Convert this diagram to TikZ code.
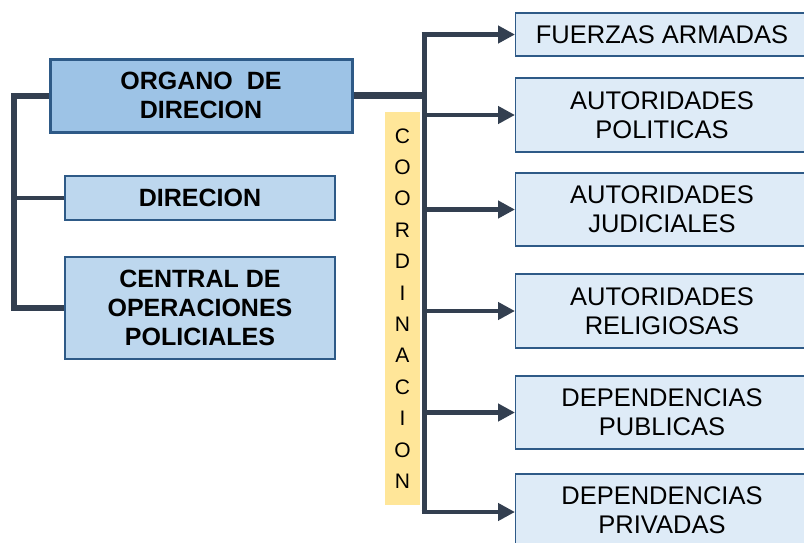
\documentclass[tikz,border=0pt]{standalone}
\usepackage{fontspec}
\setmainfont{Liberation Sans}
\usetikzlibrary{arrows.meta,calc}
\definecolor{dark}{HTML}{333F50}
\definecolor{bord}{HTML}{2E5A87}
\definecolor{fillA}{HTML}{9DC3E6}
\definecolor{fillB}{HTML}{BDD7EE}
\definecolor{fillC}{HTML}{DEEBF7}
\definecolor{yel}{HTML}{FFE699}
\begin{document}
\begin{tikzpicture}[x=1pt,y=-1pt,
  lbox/.style={draw=bord,line width=1.2pt,fill=fillB,inner sep=0pt,align=center,
    font=\fontsize{25}{29}\selectfont\bfseries},
  rbox/.style={draw=bord,line width=1.2pt,fill=fillC,inner sep=0pt,align=center},
  rtxt/.style={font=\fontsize{25.5}{29}\selectfont,align=center,inner sep=0pt},
  conn/.style={draw=dark,line width=5pt},
  arr/.style={draw=dark,line width=4.5pt,-{Triangle[length=17pt,width=17pt]}}]
\useasboundingbox (0,0) rectangle (804,542);
\begin{scope}
\clip (0,0) rectangle (804,542);
% left boxes
\node[lbox,fill=fillA,line width=3pt,minimum width=302pt,minimum height=73pt] (org) at (201,95.5) {ORGANO\ \ DE\\DIRECION};
\node[lbox,minimum width=270pt,minimum height=44pt] (dir) at (200,198) {DIRECION};
\node[lbox,minimum width=270pt,minimum height=102pt] (cen) at (200,308) {CENTRAL DE\\OPERACIONES\\POLICIALES};
% yellow band
\node[fill=yel,minimum width=35pt,minimum height=393pt,inner sep=0pt,
  font=\fontsize{21}{31.4}\selectfont,align=center] (coord) at (402.5,308.5)
  {C\\O\\O\\R\\D\\I\\N\\A\\C\\I\\O\\N};
% right boxes
\node[rbox,anchor=west,minimum width=295pt,minimum height=43pt] (b1) at (515,34.5) {};
\node[rtxt] at (662,34.5) {FUERZAS ARMADAS};
\node[rbox,anchor=west,minimum width=295pt,minimum height=74pt] (b2) at (515,115) {};
\node[rtxt] at (662,115) {AUTORIDADES\\POLITICAS};
\node[rbox,anchor=west,minimum width=295pt,minimum height=73pt] (b3) at (515,209.5) {};
\node[rtxt] at (662,209.5) {AUTORIDADES\\JUDICIALES};
\node[rbox,anchor=west,minimum width=295pt,minimum height=74pt] (b4) at (515,311) {};
\node[rtxt] at (662,311) {AUTORIDADES\\RELIGIOSAS};
\node[rbox,anchor=west,minimum width=295pt,minimum height=73pt] (b5) at (515,412.5) {};
\node[rtxt] at (662,412.5) {DEPENDENCIAS\\PUBLICAS};
\node[rbox,anchor=west,minimum width=295pt,minimum height=76pt] (b6) at (515,512) {};
\node[rtxt] at (662,510) {DEPENDENCIAS\\PRIVADAS};
% left bracket
\coordinate (lt) at (14,95.5);
\draw[conn,line width=6pt] (org.west) -- (lt) -- (lt |- cen.west) -- (cen.west);
\draw[conn,line width=4pt] (dir.west) -- (dir.west -| lt);
% right bus
\coordinate (bt) at (424,34.5);
\coordinate (bb) at (424,512);
\draw[conn,line width=7pt] (org.east) -- (org.east -| bt);
\draw[conn] (bt) -- (bb);
\draw[arr] ($(bt)+(-2.5,0)$) -- (b1.west);
\draw[arr] ($(bb)+(-2.5,0)$) -- (b6.west);
\draw[arr] (b2.west -| bt) -- (b2.west);
\draw[arr] (b3.west -| bt) -- (b3.west);
\draw[arr] (b4.west -| bt) -- (b4.west);
\draw[arr] (b5.west -| bt) -- (b5.west);
\end{scope}
\end{tikzpicture}
\end{document}
